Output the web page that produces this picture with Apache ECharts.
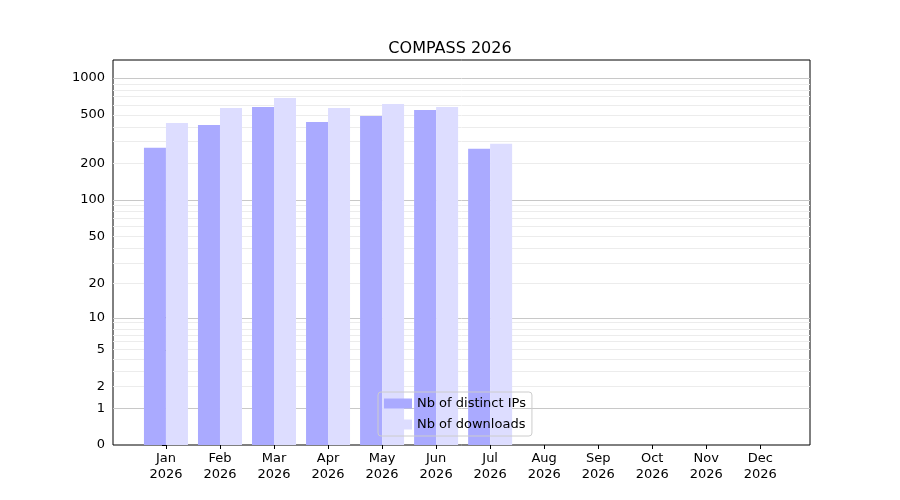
<!DOCTYPE html>
<html><head><meta charset="utf-8">
<script src="https://cdn.jsdelivr.net/npm/echarts@6/dist/echarts.min.js"></script>
<style>html,body{margin:0;background:#fff}#c{width:900px;height:500px}</style>
</head><body><div id="c"></div>
<script>
var months = ['Jan', 'Feb', 'Mar', 'Apr', 'May', 'Jun', 'Jul', 'Aug', 'Sep', 'Oct', 'Nov', 'Dec'];
var distinctIPs = [268, 413, 580, 437, 489, 548, 263];
var downloads = [429, 569, 687, 569, 614, 580, 289];
var yTicks = [0, 1, 2, 5, 10, 20, 50, 100, 200, 500, 1000];
var majorGrid = [1, 10, 100, 1000];
var minorGrid = [2, 3, 4, 5, 6, 7, 8, 9, 20, 30, 40, 50, 60, 70, 80, 90, 200, 300, 400, 500, 600, 700, 800, 900];

// y values are drawn as log10(v + 1)
function tr(v) { return Math.log10(v + 1); }
function pts(arr) { return arr.map(function (v, i) { return [i, tr(v)]; }); }

var lines = [];
majorGrid.forEach(function (t) {
    lines.push({ yAxis: tr(t), lineStyle: { color: '#c8c8c8', width: 1, type: 'solid' } });
});
minorGrid.forEach(function (t) {
    lines.push({ yAxis: tr(t), lineStyle: { color: '#ececec', width: 1, type: 'solid' } });
});

var chart = echarts.init(document.getElementById('c'));
chart.setOption({
    animation: false,
    title: {
        text: 'COMPASS 2026', left: 'center', top: 36,
        textStyle: { fontFamily: 'DejaVu Sans', fontSize: 16, fontWeight: 'normal', color: '#000' }
    },
    legend: {
        orient: 'vertical', left: 378, top: 392, padding: [5, 6],
        borderColor: '#cccccc', borderWidth: 1, borderRadius: 3,
        itemWidth: 28, itemHeight: 10, itemGap: 8, icon: 'rect',
        textStyle: { fontFamily: 'DejaVu Sans', fontSize: 13, color: '#000' },
        data: ['Nb of distinct IPs', 'Nb of downloads']
    },
    grid: { left: 113, right: 90, top: 60, bottom: 55, show: true, borderColor: '#000', borderWidth: 1 },
    xAxis: {
        type: 'value', min: -0.98, max: 11.92,
        splitLine: { show: false },
        axisLine: { show: false },
        axisTick: { customValues: [0,1,2,3,4,5,6,7,8,9,10,11], length: 4, lineStyle: { color: '#000' } },
        axisLabel: {
            customValues: [0,1,2,3,4,5,6,7,8,9,10,11],
            formatter: function (v) { return months[Math.round(v)] + '\n2026'; },
            fontFamily: 'DejaVu Sans', fontSize: 13, color: '#000', lineHeight: 16, margin: 6
        }
    },
    yAxis: {
        type: 'value', min: 0, max: 3.148,
        splitLine: { show: false },
        axisLine: { show: false },
        axisTick: { customValues: yTicks.map(tr), length: 4, lineStyle: { color: '#000' } },
        axisLabel: {
            customValues: yTicks.map(tr),
            formatter: function (v) { return String(Math.round(Math.pow(10, v) - 1)); },
            fontFamily: 'DejaVu Sans', fontSize: 13, color: '#000'
        }
    },
    series: [
        {
            name: 'Nb of distinct IPs', type: 'bar', data: pts(distinctIPs),
            barWidth: 22, barGap: '0%', itemStyle: { color: '#aaaaff' }, z: 3,
            markLine: { silent: true, symbol: 'none', label: { show: false }, data: lines, z: 1 }
        },
        {
            name: 'Nb of downloads', type: 'bar', data: pts(downloads),
            barWidth: 22, barGap: '0%', itemStyle: { color: '#ddddff' }, z: 3
        }
    ]
});
</script></body></html>
